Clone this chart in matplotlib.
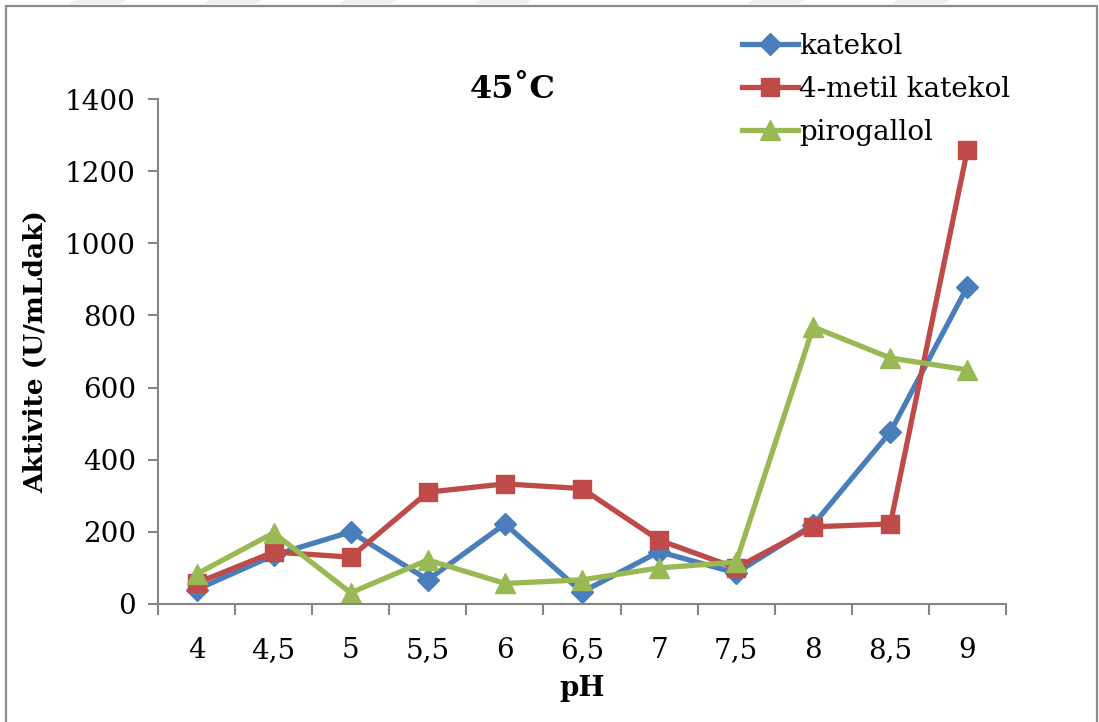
import matplotlib
matplotlib.use("Agg")
import matplotlib.pyplot as plt
from matplotlib.patches import Rectangle, Polygon
from matplotlib.ticker import FixedLocator, NullFormatter

plt.rcParams['font.family'] = ['DejaVu Serif']

ph_labels = ["4", "4,5", "5", "5,5", "6", "6,5", "7", "7,5", "8", "8,5", "9"]
katekol = [40, 135, 200, 67, 222, 33, 145, 86, 220, 477, 880]
metil_katekol = [58, 144, 130, 310, 333, 320, 177, 100, 214, 222, 1260]
pirogallol = [83, 197, 31, 122, 57, 67, 100, 116, 768, 682, 649]

series_names = ["katekol", "4-metil katekol", "pirogallol"]
colors = ["#4A7EBB", "#BE4B48", "#98B954"]

W, H = 1099, 722
fig = plt.figure(figsize=(W / 100, H / 100), dpi=100)

# outer frame and faint header stripes
fig.patches.append(Rectangle((6 / W, -0.01), (1097 - 6) / W, 1.01 - 5.5 / H,
                             transform=fig.transFigure, fill=False,
                             edgecolor="#8c8c8c", linewidth=1.6))
for x0 in [67, 202, 337, 472, 745, 890]:
    pts = [((x0 + 8) / W, 1.0), ((x0 + 60) / W, 1.0),
           ((x0 + 52) / W, 1 - 5 / H), ((x0) / W, 1 - 5 / H)]
    fig.patches.append(Polygon(pts, closed=True, transform=fig.transFigure,
                               facecolor="#f0f0f0", edgecolor="none"))

ax = fig.add_axes([158 / W, 1 - 604 / H, (1006 - 158) / W, (604 - 99) / H])

x = list(range(len(ph_labels)))
ax.plot(x, katekol, color=colors[0], lw=3.8, marker="D", ms=11,
        label=series_names[0], solid_joinstyle="round")
ax.plot(x, metil_katekol, color=colors[1], lw=3.8, marker="s", ms=13,
        label=series_names[1], solid_joinstyle="round")
ax.plot(x, pirogallol, color=colors[2], lw=3.8, marker="^", ms=14,
        label=series_names[2], solid_joinstyle="round")

ax.set_xlim(-0.5, len(ph_labels) - 0.5)
ax.set_ylim(0, 1400)
ax.set_yticks(range(0, 1401, 200))

ax.set_xticks(x)
ax.set_xticklabels(ph_labels)
ax.xaxis.set_minor_locator(FixedLocator([i - 0.5 for i in range(len(ph_labels) + 1)]))
ax.xaxis.set_minor_formatter(NullFormatter())
ax.tick_params(axis="x", which="major", length=0, pad=24, labelsize=20)
ax.tick_params(axis="x", which="minor", length=8, width=1.5, color="#868686",
               direction="out")
ax.tick_params(axis="y", which="major", length=7, width=1.5, color="#868686",
               direction="out", pad=9, labelsize=20)

for side in ["top", "right"]:
    ax.spines[side].set_visible(False)
for side in ["left", "bottom"]:
    ax.spines[side].set_color("#868686")
    ax.spines[side].set_linewidth(1.5)

ax.set_ylabel("Aktivite (U/mLdak)", fontsize=19, fontweight="bold", labelpad=12)
ax.set_xlabel("pH", fontsize=20, fontweight="bold", labelpad=8)

fig.text(513 / W, 1 - 89 / H, "45˚C", fontsize=23, fontweight="bold",
         ha="center", va="center")

leg = ax.legend(loc="upper left", bbox_to_anchor=(742 / W, 1 - 33 / H),
                bbox_transform=fig.transFigure, frameon=False, fontsize=20,
                handlelength=2.0, handletextpad=0.05, labelspacing=0.57,
                borderpad=0, borderaxespad=0)

fig.savefig("out.png", dpi=100)
